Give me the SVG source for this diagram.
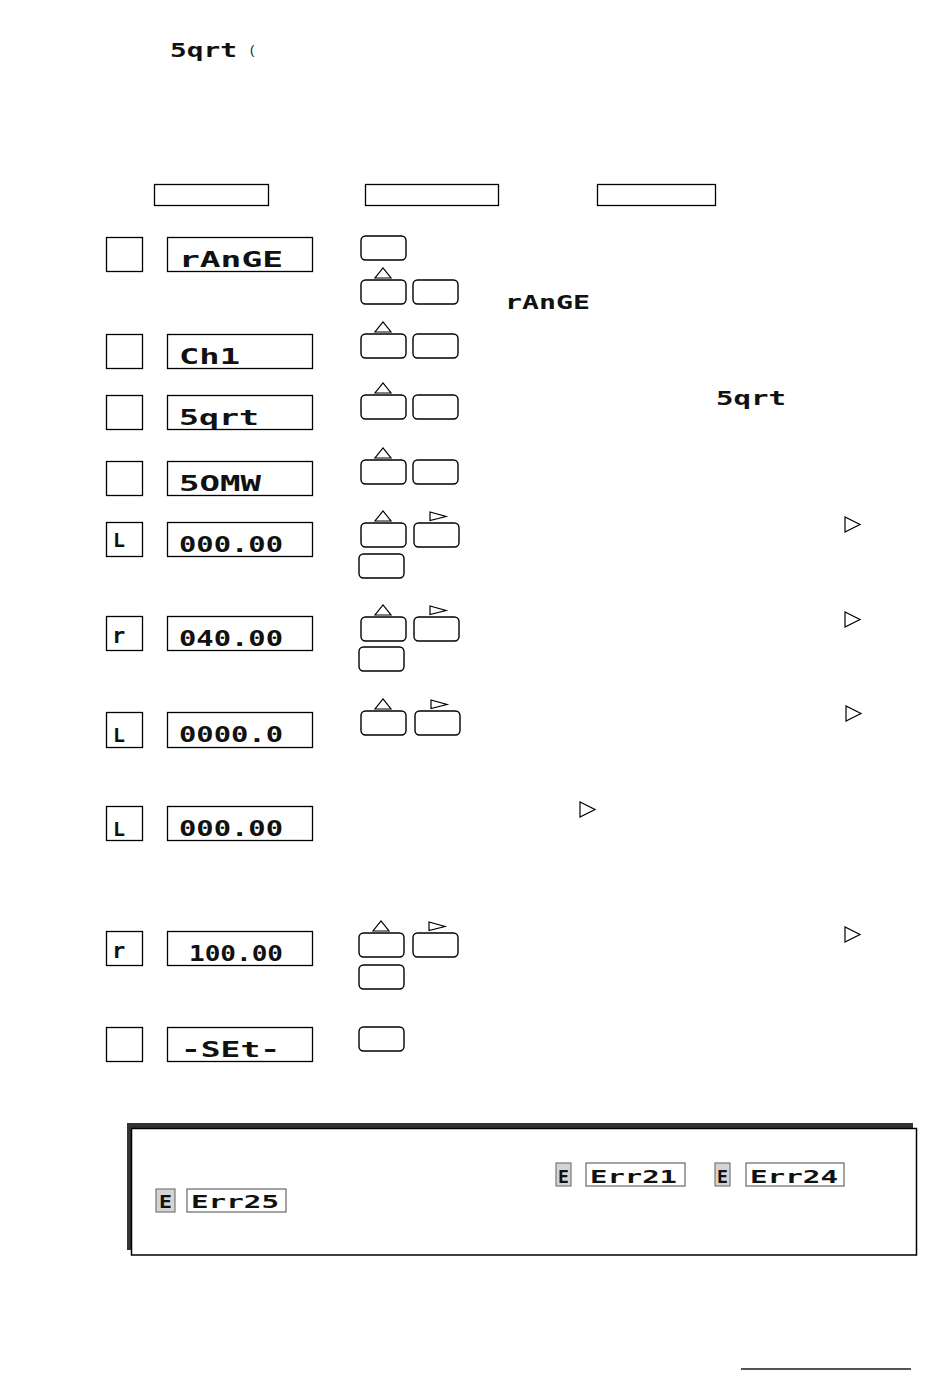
<svg xmlns="http://www.w3.org/2000/svg" width="950" height="1378" viewBox="0 0 950 1378">
<style>
.box{fill:#fff;stroke:#000;stroke-width:1.3}
.btn{fill:#fff;stroke:#000;stroke-width:1.4}
.tri{fill:#fff;stroke:#000;stroke-width:1.2;stroke-linejoin:miter}
.seg{font-family:"DejaVu Sans Mono","Liberation Mono",monospace;fill:#111;font-size:22px;font-weight:bold}
.segs{font-family:"DejaVu Sans Mono","Liberation Mono",monospace;fill:#111;font-size:20px;font-weight:bold}
.segx{font-family:"DejaVu Sans Mono","Liberation Mono",monospace;fill:#111;font-size:17px;font-weight:bold}
.ebox{fill:#d4d4d4;stroke:#777;stroke-width:1.2}
.erbox{fill:#fff;stroke:#666;stroke-width:1.2}
</style>
<defs>
<g id="btn"><rect class="btn" x="0" y="0" width="45" height="24" rx="4.5"/></g>
<g id="upbtn"><use href="#btn"/><polygon class="tri" points="14,-2 30,-2 22,-12"/></g>
<g id="rtbtn"><use href="#btn"/><polygon class="tri" points="16,-2.5 16,-11 32,-6.5"/></g>
<polygon id="rtri" class="tri" points="0,0 0,15 15,7.5"/>
</defs>
<rect width="950" height="1378" fill="#fff"/>

<g id="title">
<text class="segs" x="170" y="57" textLength="67" lengthAdjust="spacingAndGlyphs">5qrt</text>
<text x="250" y="54" font-family="Liberation Sans, sans-serif" font-size="13" fill="#111">(</text>
</g>

<g id="headers">
<rect class="box" x="154.5" y="184.5" width="114" height="21"/>
<rect class="box" x="365.5" y="184.5" width="133" height="21"/>
<rect class="box" x="597.5" y="184.5" width="118" height="21"/>
</g>

<g id="connectors"/>

<g id="row1">
<rect class="box" x="106.5" y="237.5" width="36" height="34"/>
<rect class="box" x="167.5" y="237.5" width="145" height="34"/>
<text class="seg" x="179" y="267" textLength="104" lengthAdjust="spacingAndGlyphs">rAnGE</text>
<use href="#btn" x="361" y="236"/>
<use href="#upbtn" x="361" y="280"/>
<use href="#btn" x="413" y="280"/>
<text class="segs" x="505" y="309" textLength="85" lengthAdjust="spacingAndGlyphs">rAnGE</text>
</g>

<g id="row2">
<rect class="box" x="106.5" y="334.5" width="36" height="34"/>
<rect class="box" x="167.5" y="334.5" width="145" height="34"/>
<text class="seg" x="179" y="364" textLength="61" lengthAdjust="spacingAndGlyphs">Ch1</text>
<use href="#upbtn" x="361" y="334"/>
<use href="#btn" x="413" y="334"/>
</g>

<g id="row3">
<rect class="box" x="106.5" y="395.5" width="36" height="34"/>
<rect class="box" x="167.5" y="395.5" width="145" height="34"/>
<text class="seg" x="179" y="425" textLength="80" lengthAdjust="spacingAndGlyphs">5qrt</text>
<use href="#upbtn" x="361" y="395"/>
<use href="#btn" x="413" y="395"/>
<text class="segs" x="716" y="405" textLength="70" lengthAdjust="spacingAndGlyphs">5qrt</text>
</g>

<g id="row4">
<rect class="box" x="106.5" y="461.5" width="36" height="34"/>
<rect class="box" x="167.5" y="461.5" width="145" height="34"/>
<text class="seg" x="179" y="491" textLength="82" lengthAdjust="spacingAndGlyphs">5OMW</text>
<use href="#upbtn" x="361" y="460"/>
<use href="#btn" x="413" y="460"/>
</g>

<g id="row5">
<rect class="box" x="106.5" y="522.5" width="36" height="34"/>
<text class="segs" x="113" y="547">L</text>
<rect class="box" x="167.5" y="522.5" width="145" height="34"/>
<text class="seg" x="179" y="552" textLength="104" lengthAdjust="spacingAndGlyphs">000.00</text>
<use href="#upbtn" x="361" y="523"/>
<use href="#rtbtn" x="414" y="523"/>
<use href="#btn" x="359" y="554"/>
<use href="#rtri" x="845" y="517"/>
</g>

<g id="row6">
<rect class="box" x="106.5" y="616.5" width="36" height="34"/>
<text class="seg" x="112" y="643">r</text>
<rect class="box" x="167.5" y="616.5" width="145" height="34"/>
<text class="seg" x="179" y="646" textLength="104" lengthAdjust="spacingAndGlyphs">040.00</text>
<use href="#upbtn" x="361" y="617"/>
<use href="#rtbtn" x="414" y="617"/>
<use href="#btn" x="359" y="647"/>
<use href="#rtri" x="845" y="612"/>
</g>

<g id="row7">
<rect class="box" x="106.5" y="712.5" width="36" height="35"/>
<text class="segs" x="113" y="742">L</text>
<rect class="box" x="167.5" y="712.5" width="145" height="35"/>
<text class="seg" x="179" y="742" textLength="104" lengthAdjust="spacingAndGlyphs">0000.0</text>
<use href="#upbtn" x="361" y="711"/>
<use href="#rtbtn" x="415" y="711"/>
<use href="#rtri" x="846" y="706"/>
</g>

<g id="row8">
<rect class="box" x="106.5" y="806.5" width="36" height="34"/>
<text class="segs" x="113" y="836">L</text>
<rect class="box" x="167.5" y="806.5" width="145" height="34"/>
<text class="seg" x="179" y="836" textLength="104" lengthAdjust="spacingAndGlyphs">000.00</text>
<use href="#rtri" x="580" y="802"/>
</g>

<g id="row9">
<rect class="box" x="106.5" y="931.5" width="36" height="34"/>
<text class="seg" x="112" y="958">r</text>
<rect class="box" x="167.5" y="931.5" width="145" height="34"/>
<text class="seg" x="189" y="961" textLength="94" lengthAdjust="spacingAndGlyphs">100.00</text>
<use href="#upbtn" x="359" y="933"/>
<use href="#rtbtn" x="413" y="933"/>
<use href="#btn" x="359" y="965"/>
<use href="#rtri" x="845" y="927"/>
</g>

<g id="row10">
<rect class="box" x="106.5" y="1027.5" width="36" height="34"/>
<rect class="box" x="167.5" y="1027.5" width="145" height="34"/>
<text class="seg" x="181" y="1057" textLength="99" lengthAdjust="spacingAndGlyphs">-SEt-</text>
<use href="#btn" x="359" y="1027"/>
</g>

<g id="notebox">
<rect x="127" y="1123" width="786" height="127" fill="#333"/>
<rect x="131.5" y="1128.5" width="785" height="126.5" fill="#fff" stroke="#000" stroke-width="1.5"/>
<rect class="ebox" x="556" y="1163" width="15" height="23"/>
<text class="segx" x="558" y="1183" textLength="11" lengthAdjust="spacingAndGlyphs">E</text>
<rect class="erbox" x="586" y="1163" width="99" height="23"/>
<text class="segx" x="590" y="1183" textLength="87" lengthAdjust="spacingAndGlyphs">Err21</text>
<rect class="ebox" x="715" y="1163" width="15" height="23"/>
<text class="segx" x="717" y="1183" textLength="11" lengthAdjust="spacingAndGlyphs">E</text>
<rect class="erbox" x="746" y="1163" width="98" height="23"/>
<text class="segx" x="750" y="1183" textLength="88" lengthAdjust="spacingAndGlyphs">Err24</text>
<rect class="ebox" x="156" y="1189" width="19" height="23"/>
<text class="segx" x="159" y="1208" textLength="13" lengthAdjust="spacingAndGlyphs">E</text>
<rect class="erbox" x="187" y="1189" width="99" height="23"/>
<text class="segx" x="191" y="1208" textLength="88" lengthAdjust="spacingAndGlyphs">Err25</text>
</g>

<g id="footer">
<line x1="741" y1="1369" x2="911" y2="1369" stroke="#555" stroke-width="2"/>
</g>
</svg>
